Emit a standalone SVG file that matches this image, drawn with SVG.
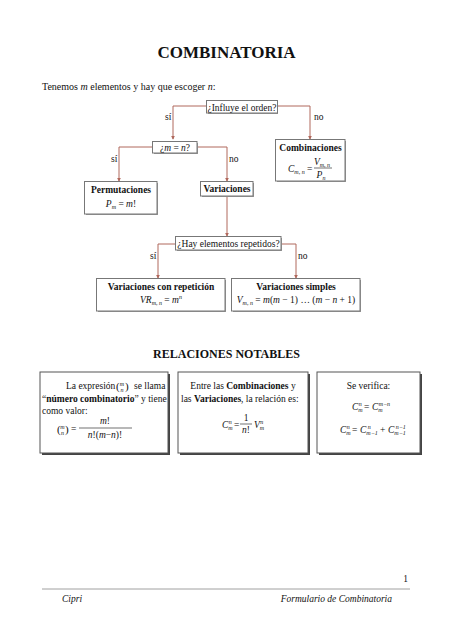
<svg xmlns="http://www.w3.org/2000/svg" width="453" height="640" viewBox="0 0 453 640">
<style>
text{font-family:"Liberation Serif","Times New Roman",serif;fill:#111}
.t{font-size:9.5px}
.b{font-weight:bold}
.i{font-style:italic}
.s{font-size:6px}
.box{fill:#fff;stroke:#777;stroke-width:1}
.sh{fill:#999}
.con{fill:none;stroke:#b0685c;stroke-width:1}
.nb{fill:#fff;stroke:#555;stroke-width:1}
.nbs{fill:#444}
</style>
<defs>
<marker id="ar" viewBox="0 0 6 6" refX="5" refY="3" markerWidth="4" markerHeight="4" orient="auto">
<path d="M0,0 L6,3 L0,6 z" fill="#b0685c"/>
</marker>
</defs>
<rect width="453" height="640" fill="#fff"/>
<text x="226.5" y="58" text-anchor="middle" font-size="17" class="b">COMBINATORIA</text>
<text x="42" y="90" font-size="10">Tenemos <tspan class="i">m</tspan> elementos y hay que escoger <tspan class="i">n</tspan>:</text>

<g id="connectors">
<path class="con" d="M207,106 H173 V139" marker-end="url(#ar)"/>
<path class="con" d="M277,106 H310 V139" marker-end="url(#ar)"/>
<path class="con" d="M153,147 H119 V181" marker-end="url(#ar)"/>
<path class="con" d="M197,147 H227 V181" marker-end="url(#ar)"/>
<path class="con" d="M227,197 V236" marker-end="url(#ar)"/>
<path class="con" d="M176,244 H158 V278" marker-end="url(#ar)"/>
<path class="con" d="M281,244 H296 V278" marker-end="url(#ar)"/>
<text x="165" y="120" class="t">sí</text>
<text x="314" y="120" class="t">no</text>
<text x="111" y="162" class="t">sí</text>
<text x="229" y="162" class="t">no</text>
<text x="150" y="259" class="t">sí</text>
<text x="298" y="259" class="t">no</text>
</g>

<g id="influye">
<rect x="208" y="102" width="70" height="12" class="sh"/>
<rect x="206.5" y="100.5" width="71" height="12.5" class="box"/>
<text x="242" y="110.5" text-anchor="middle" class="t">¿Influye el orden?</text>
</g>

<g id="m_eq_n">
<rect x="154" y="143" width="44" height="11" class="sh"/>
<rect x="152.5" y="141.5" width="44.5" height="11.5" class="box"/>
<text x="175" y="151" text-anchor="middle" class="t">¿<tspan class="i">m</tspan> = <tspan class="i">n</tspan>?</text>
</g>

<g id="combinaciones">
<rect x="277" y="141" width="69" height="41" class="sh"/>
<rect x="275.5" y="139.5" width="69.5" height="41.5" class="box"/>
<text x="310.5" y="151" text-anchor="middle" class="t b">Combinaciones</text>
<text x="288" y="172" class="t i">C<tspan class="s" dy="2">m, n</tspan></text>
<text x="307" y="172" class="t">=</text>
<text x="322" y="165" text-anchor="middle" class="t i">V<tspan class="s" dy="2">m, n</tspan></text>
<line x1="314" y1="168" x2="332" y2="168" stroke="#111" stroke-width="0.6"/>
<text x="321" y="177.5" text-anchor="middle" class="t i">P<tspan class="s" dy="2">n</tspan></text>
</g>

<g id="permutaciones">
<rect x="86" y="183" width="72" height="32" class="sh"/>
<rect x="84.5" y="181.5" width="72.5" height="32.5" class="box"/>
<text x="121" y="192.5" text-anchor="middle" class="t b">Permutaciones</text>
<text x="121" y="207" text-anchor="middle" class="t i">P<tspan class="s" dy="2">m</tspan><tspan dy="-2" font-style="normal"> = </tspan>m<tspan font-style="normal">!</tspan></text>
</g>

<g id="variaciones">
<rect x="202" y="183" width="52" height="14" class="sh"/>
<rect x="200.5" y="181.5" width="52.5" height="14.5" class="box"/>
<text x="227" y="192" text-anchor="middle" class="t b">Variaciones</text>
</g>

<g id="repetidos">
<rect x="177" y="238" width="105" height="13" class="sh"/>
<rect x="175.5" y="236.5" width="105.5" height="13.5" class="box"/>
<text x="228.5" y="246.5" text-anchor="middle" class="t">¿Hay elementos repetidos?</text>
</g>

<g id="var_rep">
<rect x="98" y="280" width="128" height="32" class="sh"/>
<rect x="96.5" y="278.5" width="128.5" height="32.5" class="box"/>
<text x="161" y="289.5" text-anchor="middle" class="t b">Variaciones con repetición</text>
<text x="161" y="303" text-anchor="middle" class="t i">VR<tspan class="s" dy="2">m, n</tspan><tspan dy="-2" font-style="normal"> = </tspan>m<tspan class="s" dy="-4">n</tspan></text>
</g>

<g id="var_simples">
<rect x="233" y="280" width="128" height="32" class="sh"/>
<rect x="231.5" y="278.5" width="128.5" height="32.5" class="box"/>
<text x="296" y="289.5" text-anchor="middle" class="t b">Variaciones simples</text>
<text x="296" y="303" text-anchor="middle" class="t i">V<tspan class="s" dy="2">m, n</tspan><tspan dy="-2" font-style="normal"> = </tspan>m<tspan font-style="normal">(</tspan>m<tspan font-style="normal"> − 1) … (</tspan>m<tspan font-style="normal"> − </tspan>n<tspan font-style="normal"> + 1)</tspan></text>
</g>

<text x="226.5" y="358" text-anchor="middle" font-size="12" class="b">RELACIONES NOTABLES</text>

<g id="rel1">
<rect x="42" y="374" width="128" height="81" class="nbs"/>
<rect x="40" y="372" width="128" height="81" class="nb"/>
<text x="66" y="389" class="t">La expresión</text>
<text x="116" y="390" font-size="11">(</text>
<text x="122" y="385.5" text-anchor="middle" class="s i">m</text>
<text x="122" y="391.5" text-anchor="middle" class="s i">n</text>
<text x="125" y="390" font-size="11">)</text>
<text x="134" y="389" class="t">se llama</text>
<text x="42" y="402" class="t">“<tspan class="b">número combinatorio</tspan>” y tiene</text>
<text x="42" y="414" class="t">como valor:</text>
<text x="57" y="433" font-size="11">(</text>
<text x="62.5" y="428.5" text-anchor="middle" class="s i">m</text>
<text x="62.5" y="434.5" text-anchor="middle" class="s i">n</text>
<text x="65" y="433" font-size="11">)</text>
<text x="71" y="432" class="t">=</text>
<text x="105" y="424" text-anchor="middle" class="t i">m<tspan font-style="normal">!</tspan></text>
<line x1="79" y1="428" x2="132" y2="428" stroke="#111" stroke-width="0.6"/>
<text x="105" y="438" text-anchor="middle" class="t i">n<tspan font-style="normal">!(</tspan>m<tspan font-style="normal">−</tspan>n<tspan font-style="normal">)!</tspan></text>
</g>

<g id="rel2">
<rect x="180" y="374" width="130" height="81" class="nbs"/>
<rect x="178" y="372" width="130" height="81" class="nb"/>
<text x="243" y="389" text-anchor="middle" class="t">Entre las <tspan class="b">Combinaciones</tspan> y</text>
<text x="181" y="402" class="t">las <tspan class="b">Variaciones</tspan>, la relación es:</text>
<text x="222" y="428" class="t i">C<tspan class="s" dy="2">m</tspan><tspan class="s" dx="-4" dy="-6">n</tspan></text>
<text x="234" y="428" class="t">=</text>
<text x="246" y="421" text-anchor="middle" class="t">1</text>
<line x1="240" y1="424" x2="252" y2="424" stroke="#111" stroke-width="0.6"/>
<text x="246" y="433" text-anchor="middle" class="t i">n<tspan font-style="normal">!</tspan></text>
<text x="254" y="428" class="t i">V<tspan class="s" dy="2">m</tspan><tspan class="s" dx="-4" dy="-6">n</tspan></text>
</g>

<g id="rel3">
<rect x="319" y="374" width="103" height="81" class="nbs"/>
<rect x="317" y="372" width="103" height="81" class="nb"/>
<text x="368.5" y="389" text-anchor="middle" class="t">Se verifica:</text>
<text x="352" y="410" class="t i">C<tspan class="s" dy="2">m</tspan><tspan class="s" dx="-4" dy="-6">n</tspan></text>
<text x="364" y="410" class="t">=</text>
<text x="372" y="410" class="t i">C<tspan class="s" dy="2">m</tspan><tspan class="s" dx="-4" dy="-6">m−n</tspan></text>
<text x="340" y="433" class="t i">C<tspan class="s" dy="2">m</tspan><tspan class="s" dx="-4" dy="-6">n</tspan></text>
<text x="352" y="433" class="t">=</text>
<text x="360" y="433" class="t i">C<tspan class="s" dy="2">m−1</tspan><tspan class="s" dx="-10" dy="-6">n</tspan></text>
<text x="380" y="433" class="t">+</text>
<text x="388" y="433" class="t i">C<tspan class="s" dy="2">m−1</tspan><tspan class="s" dx="-10" dy="-6">n−1</tspan></text>
</g>

<g id="footer">
<text x="408" y="582" text-anchor="end" class="t">1</text>
<line x1="42" y1="589" x2="410" y2="589" stroke="#888" stroke-width="0.8"/>
<text x="62" y="602" class="t i">Cipri</text>
<text x="392" y="602" text-anchor="end" class="t i">Formulario de Combinatoria</text>
</g>
</svg>
